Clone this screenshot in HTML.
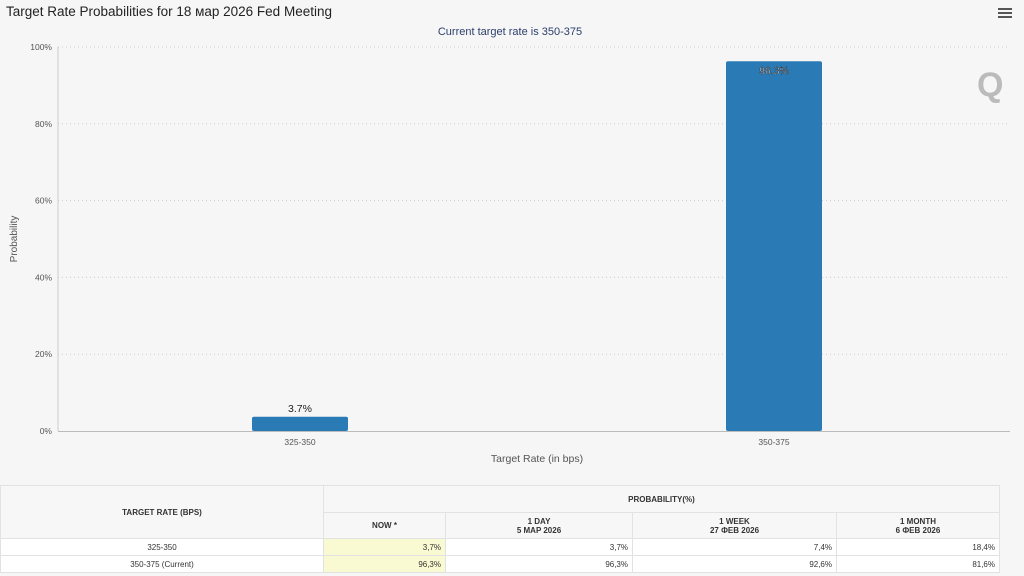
<!DOCTYPE html>
<html><head><meta charset="utf-8"><style>
body{margin:0;width:1024px;height:576px;background:#f6f6f6;font-family:"Liberation Sans",sans-serif;overflow:hidden;position:relative}
#title{position:absolute;left:6px;top:4px;font-size:13.5px;color:#222}
#menu{position:absolute;left:998px;top:8px;width:14px}
#menu div{height:2px;background:#555;margin-bottom:2px}
table{position:absolute;left:0;top:485px;width:1000px;border-collapse:collapse;background:#fff;font-size:8px;color:#333}
td,th{border:1px solid #e2e2e2;padding:0 4px}
th{background:#f7f7f7;font-weight:bold;text-align:center}
td{text-align:right;height:16px}
td.c{text-align:center}
td.now{background:#fafad2}
</style></head><body>
<div id="title">Target Rate Probabilities for 18 мар 2026 Fed Meeting</div>
<div id="menu"><div></div><div></div><div></div></div>
<svg id="chart" width="1024" height="480" style="position:absolute;left:0;top:0"></svg>
<table>
<tr style="height:27px"><th rowspan="2" style="width:314px">TARGET RATE (BPS)</th><th colspan="4">PROBABILITY(%)</th></tr>
<tr style="height:26px"><th style="width:113px">NOW *</th><th style="width:178px">1 DAY<br>5 MAP 2026</th><th style="width:195px">1 WEEK<br>27 ФЕВ 2026</th><th>1 MONTH<br>6 ФЕВ 2026</th></tr>
<tr><td class="c">325-350</td><td class="now">3,7%</td><td>3,7%</td><td>7,4%</td><td>18,4%</td></tr>
<tr><td class="c">350-375 (Current)</td><td class="now">96,3%</td><td>96,3%</td><td>92,6%</td><td>81,6%</td></tr>
</table>
<script>
const categories=["325-350","350-375"];
const values=[3.7,96.3];
const yTicks=[0,20,40,60,80,100];
const NS="http://www.w3.org/2000/svg";
const svg=document.getElementById('chart');
const x0=58,x1=1010,y0=431,y1=47;
const y=v=>y0-(v/100)*(y0-y1);
const bw=474;
const cx=i=>63+bw*(i+0.5);
function el(t,a,txt){const e=document.createElementNS(NS,t);for(const k in a)e.setAttribute(k,a[k]);if(txt!=null)e.textContent=txt;svg.appendChild(e);return e;}
let s=el('text',{x:510,y:35,'text-anchor':'middle','font-size':11,fill:'#2b3e6b'},'Current target rate is 350-375');


yTicks.forEach(t=>{
 if(t>0){const g=el('line',{x1:x0,x2:x1,y1:y(t),y2:y(t),stroke:'#ccc','stroke-dasharray':'1,3'});}
 const l=el('text',{x:52,y:y(t)+3,'text-anchor':'end','font-size':8.5,fill:'#555'},t+'%');
 
 
});
let ax=el('line',{x1:x0,x2:x0,y1:y1,y2:y0,stroke:'#ccc'});


let bx=el('line',{x1:x0,x2:x1,y1:y0+0.5,y2:y0+0.5,stroke:'#bbb'});


categories.forEach((c,i)=>{
 const v=values[i];
 const r=el('rect',{x:cx(i)-48,y:y(v),width:96,height:y0-y(v),fill:'#2a7ab6',rx:2});
 
 
 const inside=v>50;
 const lb=el('text',{x:cx(i),y:inside?y(v)+13:y(v)-5,'text-anchor':'middle','font-size':10.5,fill:inside?'#fff':'#222','font-family':'Liberation Sans, sans-serif',stroke:inside?'#222':'none','stroke-width':inside?0.4:0},v.toFixed(1)+'%');
 
 
 const xl=el('text',{x:cx(i),y:445,'text-anchor':'middle','font-size':8.5,fill:'#555'},c);
 
 
});
let xt=el('text',{x:537,y:462,'text-anchor':'middle','font-size':10.5,fill:'#555'},'Target Rate (in bps)');


let yt=el('text',{x:17,y:239,'text-anchor':'middle','font-size':10,fill:'#555',transform:'rotate(-90 17 239)'},'Probability');


let q=el('text',{x:977,y:96,'font-size':34,'font-weight':'bold',fill:'#bbb'},'Q');


</script>
</body></html>
